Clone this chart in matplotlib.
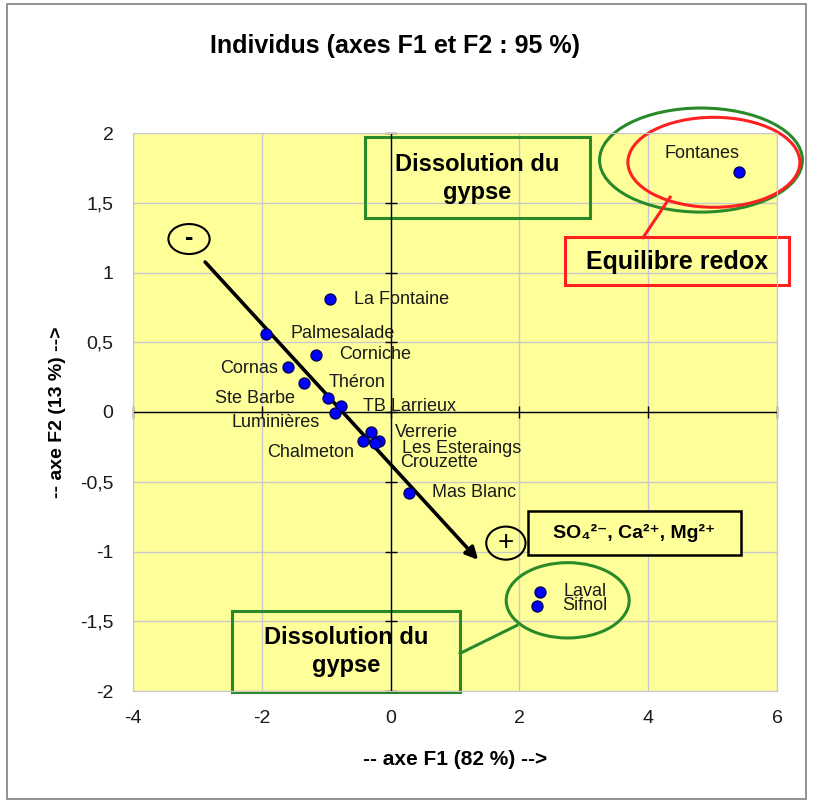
import numpy as np
import matplotlib.pyplot as plt
from matplotlib.patches import Ellipse, Rectangle
from matplotlib.ticker import FuncFormatter

plt.rcParams['font.family'] = ['Liberation Sans', 'DejaVu Sans']

# scores des individus sur F1 / F2
noms = ['Fontanes', 'La Fontaine', 'Palmesalade', 'Corniche', 'Cornas', 'Théron',
        'Ste Barbe', 'TB Larrieux', 'Luminières', 'Verrerie', 'Les Esteraings',
        'Crouzette', 'Chalmeton', 'Mas Blanc', 'Laval', 'Sifnol']
f1 = [5.41, -0.94, -1.93, -1.16, -1.59, -1.34, -0.97, -0.77, -0.86, -0.31, -0.18,
      -0.24, -0.43, 0.29, 2.32, 2.28]
f2 = [1.72, 0.81, 0.56, 0.41, 0.32, 0.21, 0.10, 0.04, -0.01, -0.14, -0.21,
      -0.22, -0.21, -0.58, -1.29, -1.39]
xticks = [-4, -2, 0, 2, 4, 6]
yticks = [-2, -1.5, -1, -0.5, 0, 0.5, 1, 1.5, 2]

# decalage des etiquettes (pixels) et alignement
decal = [(-74, 19, 'left'), (24, 0, 'left'), (24, 0, 'left'), (23, 0, 'left'),
         (-10, -1, 'right'), (24, 0, 'left'), (-33, 0, 'right'), (22, 0, 'left'),
         (-15, -9, 'right'), (24, -1, 'left'), (23, -7, 'left'), (25, -20, 'left'),
         (-9, -11, 'right'), (23, 0, 'left'), (23, 0, 'left'), (25, 0, 'left')]

vert = '#2a8a2a'
rouge = '#ff2020'
jaune = '#ffff99'

fig = plt.figure(figsize=(8.13, 8.0), dpi=100)
ax = fig.add_axes([0.1636, 0.13625, 0.7921, 0.6975])
ax.set_facecolor(jaune)
ax.set_xlim(-4, 6)
ax.set_ylim(-2, 2)
ax.set_xticks(xticks)
ax.set_yticks(yticks)
fmt = FuncFormatter(lambda v, p: f'{v:g}'.replace('.', ','))
ax.xaxis.set_major_formatter(fmt)
ax.yaxis.set_major_formatter(fmt)
ax.tick_params(length=0, pad=14, labelsize=14, colors='#1a1a1a')
ax.grid(True, color='#c8c8c8', lw=1)
ax.set_axisbelow(True)
for s in ax.spines.values():
    s.set_color('#c8c8c8')

# axes passant par l'origine
ax.axhline(0, color='black', lw=1, zorder=2)
ax.axvline(0, color='black', lw=1, zorder=2)
ax.plot(xticks, np.zeros(len(xticks)), ls='none', marker='|', ms=9, color='black', clip_on=False, zorder=2)
ax.plot(np.zeros(len(yticks)), yticks, ls='none', marker='_', ms=9, color='black', clip_on=False, zorder=2)

ax.scatter(f1, f2, s=62, c='#0000ff', edgecolors='#000060', linewidths=1, zorder=5)
for n, x, y, (dx, dy, ha) in zip(noms, f1, f2, decal):
    ax.annotate(n, (x, y), xytext=(dx, dy), textcoords='offset pixels',
                ha=ha, va='center', fontsize=13, color='#1a1a1a', zorder=6)

ax.set_xlabel('-- axe F1 (82 %) -->', fontsize=15, fontweight='bold', labelpad=16)
ax.set_ylabel('-- axe F2 (13 %) -->', fontsize=14, fontweight='bold', labelpad=10)
fig.text(395 / 813, 1 - 46 / 800, 'Individus (axes F1 et F2 : 95 %)', ha='center', va='center',
         fontsize=18, fontweight='bold')

# fleche de tendance
ax.annotate('', xy=(1.36, -1.06), xytext=(-2.88, 1.075),
            arrowprops=dict(arrowstyle='-|>', lw=2.6, color='black', mutation_scale=18,
                            shrinkA=0, shrinkB=0), zorder=4)
ax.add_patch(Ellipse((-3.13, 1.24), 0.64, 0.215, fill=False, ec='black', lw=1.5, clip_on=False))
ax.text(-3.13, 1.245, '-', ha='center', va='center', fontsize=18, fontweight='bold')
ax.add_patch(Ellipse((1.79, -0.94), 0.61, 0.237, fill=False, ec='black', lw=1.5, clip_on=False))
ax.text(1.79, -0.94, '+', ha='center', va='center', fontsize=20)

# encadres
ax.add_patch(Rectangle((-0.40, 1.39), 3.50, 0.58, fill=False, ec=vert, lw=2.2, clip_on=False))
ax.text(1.35, 1.675, 'Dissolution du\ngypse', ha='center', va='center', fontsize=17,
        fontweight='bold', linespacing=1.3)
ax.add_patch(Rectangle((-2.46, -2.01), 3.54, 0.58, fill=False, ec=vert, lw=2.2, clip_on=False))
ax.text(-0.69, -1.715, 'Dissolution du\ngypse', ha='center', va='center', fontsize=17,
        fontweight='bold', linespacing=1.3)
ax.add_patch(Ellipse((2.75, -1.35), 1.91, 0.54, fill=False, ec=vert, lw=2.2, clip_on=False))
ax.plot([1.08, 1.96], [-1.73, -1.53], color=vert, lw=2.2, clip_on=False)

ax.add_patch(Ellipse((4.82, 1.806), 3.15, 0.746, fill=False, ec=vert, lw=2.2, clip_on=False))
ax.add_patch(Ellipse((5.02, 1.79), 2.67, 0.645, fill=False, ec=rouge, lw=2.2, clip_on=False))
ax.plot([4.34, 3.92], [1.54, 1.25], color=rouge, lw=2.2, clip_on=False)
ax.add_patch(Rectangle((2.71, 0.91), 3.48, 0.344, fill=False, ec=rouge, lw=2.2, clip_on=False))
ax.text(4.45, 1.075, 'Equilibre redox', ha='center', va='center', fontsize=18, fontweight='bold')

ax.add_patch(Rectangle((2.13, -1.025), 3.31, 0.315, fc=jaune, ec='black', lw=1.8, clip_on=False, zorder=3))
ax.text(3.78, -0.87, 'SO₄²⁻, Ca²⁺, Mg²⁺', ha='center', va='center', fontsize=14,
        fontweight='bold', zorder=4)

# cadre exterieur
fig.patches.append(Rectangle((0.0086, 0.00125), 0.9828, 0.9937, transform=fig.transFigure,
                             fill=False, ec='#808080', lw=1.2))

fig.savefig('out.png', dpi=100, facecolor='white')
